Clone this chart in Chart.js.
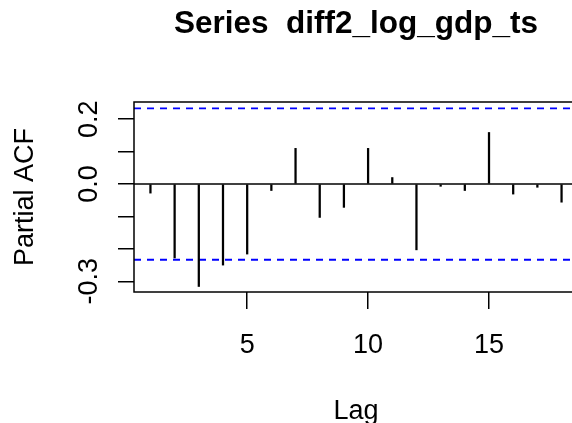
<!DOCTYPE html>
<html>
<head>
<meta charset="utf-8">
<script src="https://cdn.jsdelivr.net/npm/chart.js@4/dist/chart.umd.min.js"></script>
<style>
  html, body { margin: 0; padding: 0; background: #fff; overflow: hidden; }
  canvas { display: block; }
</style>
</head>
<body>
<canvas id="pacf" width="600" height="423"></canvas>
<script>
// lag 1..18, partial autocorrelations
const lags = [1, 2, 3, 4, 5, 6, 7, 8, 9, 10, 11, 12, 13, 14, 15, 16, 17, 18];
const pacf = [-0.028, -0.228, -0.316, -0.25, -0.216, -0.02, 0.11, -0.103, -0.072,
              0.11, 0.02, -0.203, -0.007, -0.02, 0.159, -0.031, -0.01, -0.056];
const ciBound = 0.2335;
const xTicks = [5, 10, 15];
const yTicks = [-0.3, -0.2, -0.1, 0.0, 0.1, 0.2];
const yTickLabels = ['-0.3', '0.0', '0.2'];
const titleText = 'Series  diff2_log_gdp_ts';

const FONT = '"Liberation Sans", Arial, Helvetica, sans-serif';

const rPlot = {
  id: 'rPlot',
  beforeDatasetsDraw(chart) {
    const { ctx, chartArea: a, scales: { y } } = chart;
    ctx.save();
    // zero line
    ctx.strokeStyle = '#000';
    ctx.lineWidth = 1.5;
    ctx.beginPath();
    ctx.moveTo(a.left, y.getPixelForValue(0));
    ctx.lineTo(a.right, y.getPixelForValue(0));
    ctx.stroke();
    // confidence bounds
    ctx.strokeStyle = '#0000ff';
    ctx.lineWidth = 1.8;
    ctx.setLineDash([7, 6]);
    [ciBound, -ciBound].forEach(v => {
      const py = y.getPixelForValue(v);
      ctx.beginPath();
      ctx.moveTo(a.left, py);
      ctx.lineTo(a.right, py);
      ctx.stroke();
    });
    ctx.restore();
  },
  afterDraw(chart) {
    const { ctx, chartArea: a, scales: { x, y } } = chart;
    ctx.save();
    ctx.strokeStyle = '#000';
    ctx.lineWidth = 1.5;
    ctx.strokeRect(a.left, a.top, a.right - a.left, a.bottom - a.top);

    ctx.fillStyle = '#000';
    ctx.font = '27px ' + FONT;
    ctx.textAlign = 'center';
    ctx.textBaseline = 'alphabetic';
    xTicks.forEach(t => ctx.fillText(String(t), x.getPixelForValue(t), 353));
    ctx.fillText('Lag', (a.left + a.right) / 2, 419);

    yTickLabels.forEach(lbl => {
      ctx.save();
      ctx.translate(97, y.getPixelForValue(parseFloat(lbl)));
      ctx.rotate(-Math.PI / 2);
      ctx.fillText(lbl, 0, 0);
      ctx.restore();
    });
    ctx.save();
    ctx.translate(33, (a.top + a.bottom) / 2);
    ctx.rotate(-Math.PI / 2);
    ctx.fillText('Partial ACF', 0, 0);
    ctx.restore();

    ctx.font = 'bold 31.5px ' + FONT;
    ctx.fillText(titleText, (a.left + a.right) / 2, 33);
    ctx.restore();
  }
};

new Chart(document.getElementById('pacf'), {
  type: 'bar',
  data: {
    datasets: [{
      data: lags.map((l, i) => ({ x: l, y: pacf[i] })),
      backgroundColor: '#000',
      barThickness: 1.6
    }]
  },
  options: {
    responsive: false,
    animation: false,
    layout: { padding: { left: 0, top: 102, right: 22, bottom: 0 } },
    plugins: { legend: { display: false }, tooltip: { enabled: false }, title: { display: false } },
    scales: {
      x: {
        type: 'linear', min: 0.32, max: 18.68, offset: false,
        afterBuildTicks: s => { s.ticks = xTicks.map(v => ({ value: v })); },
        afterFit: s => { s.height = 131; },
        ticks: { display: false },
        border: { display: false },
        grid: { display: true, offset: false, drawOnChartArea: false, drawTicks: true, tickLength: 17, color: '#000', lineWidth: 1.5 }
      },
      y: {
        type: 'linear', min: -0.333, max: 0.253,
        afterBuildTicks: s => { s.ticks = yTicks.map(v => ({ value: v })); },
        afterFit: s => { s.width = 134; },
        ticks: { display: false },
        border: { display: false },
        grid: { display: true, offset: false, drawOnChartArea: false, drawTicks: true, tickLength: 16, color: '#000', lineWidth: 1.5 }
      }
    }
  },
  plugins: [rPlot]
});
</script>
</body>
</html>
